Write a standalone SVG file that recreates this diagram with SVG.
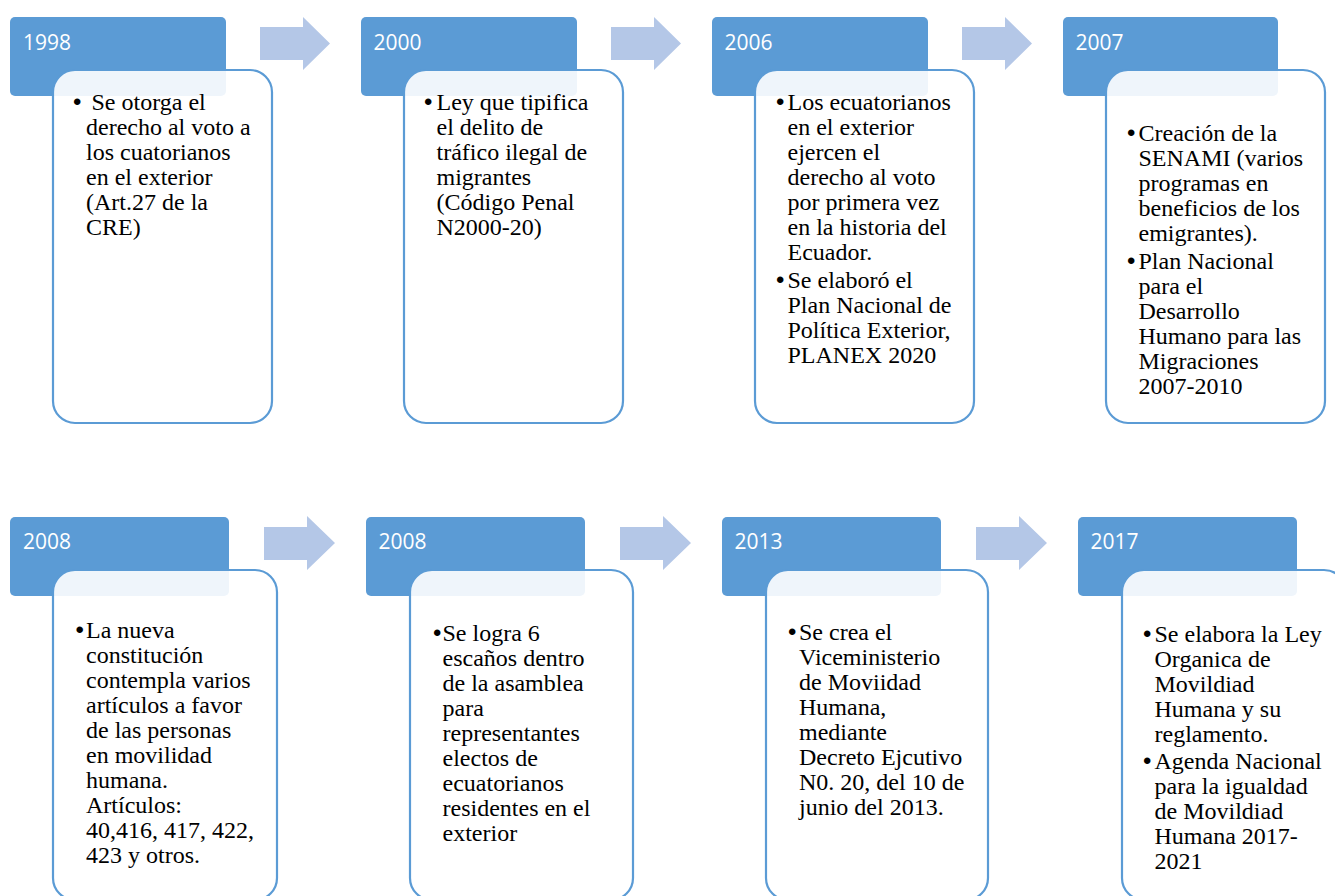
<svg xmlns="http://www.w3.org/2000/svg" width="1335" height="896" viewBox="0 0 1335 896">
<style>
.hdr{fill:#5B9BD5}
.yr{font-family:"Open Sans","Liberation Sans",sans-serif;font-size:21px;fill:#ffffff}
.card{fill:#ffffff;fill-opacity:0.9;stroke:#5B9BD5;stroke-width:2.2}
.tx{font-family:"Liberation Serif","Times New Roman",serif;font-size:24px;fill:#000000}
.bl{font-family:"Liberation Sans",Arial,sans-serif;font-size:24px;fill:#000000}
.arr{fill:#B4C7E7}
</style>
<rect width="1335" height="896" fill="#ffffff"/>
<g id="connectors">
<polygon class="arr" points="260,27 303,27 303,17 330,43.5 303,70 303,60 260,60"/>
<polygon class="arr" points="611,27 654,27 654,17 681,43.5 654,70 654,60 611,60"/>
<polygon class="arr" points="962,27 1005,27 1005,17 1032,43.5 1005,70 1005,60 962,60"/>
<polygon class="arr" points="264,527 307,527 307,516 335,543 307,570 307,560 264,560"/>
<polygon class="arr" points="620,527 663,527 663,516 691,543 663,570 663,560 620,560"/>
<polygon class="arr" points="976,527 1019,527 1019,516 1047,543 1019,570 1019,560 976,560"/>
</g>
<g id="node-1998">
<rect class="hdr" x="10" y="17" width="216" height="79" rx="5"/>
<text class="yr" x="23" y="50">1998</text>
<rect class="card" x="53" y="70" width="219" height="353" rx="22"/>
<text class="bl" x="73" y="110">•</text>
<text class="tx"><tspan x="91.5" y="110">Se otorga el</tspan><tspan x="86" y="135">derecho al voto a</tspan><tspan x="86" y="160">los cuatorianos</tspan><tspan x="86" y="185">en el exterior</tspan><tspan x="86" y="210">(Art.27 de la</tspan><tspan x="86" y="235">CRE)</tspan></text>
</g>
<g id="node-2000">
<rect class="hdr" x="361" y="17" width="216" height="79" rx="5"/>
<text class="yr" x="373.5" y="50">2000</text>
<rect class="card" x="404" y="70" width="219" height="353" rx="22"/>
<text class="bl" x="424" y="110">•</text>
<text class="tx"><tspan x="436.5" y="110">Ley que tipifica</tspan><tspan x="436.5" y="135">el delito de</tspan><tspan x="436.5" y="160">tráfico ilegal de</tspan><tspan x="436.5" y="185">migrantes</tspan><tspan x="436.5" y="210">(Código Penal</tspan><tspan x="436.5" y="235">N2000-20)</tspan></text>
</g>
<g id="node-2006">
<rect class="hdr" x="712" y="17" width="216" height="79" rx="5"/>
<text class="yr" x="724.5" y="50">2006</text>
<rect class="card" x="755" y="70" width="219" height="353" rx="22"/>
<text class="bl" x="776" y="110">•</text>
<text class="bl" x="776" y="287.5">•</text>
<text class="tx"><tspan x="787.5" y="110">Los ecuatorianos</tspan><tspan x="787.5" y="135">en el exterior</tspan><tspan x="787.5" y="160">ejercen el</tspan><tspan x="787.5" y="185">derecho al voto</tspan><tspan x="787.5" y="210">por primera vez</tspan><tspan x="787.5" y="235">en la historia del</tspan><tspan x="787.5" y="260">Ecuador.</tspan><tspan x="787.5" y="287.5">Se elaboró el</tspan><tspan x="787.5" y="312.5">Plan Nacional de</tspan><tspan x="787.5" y="337.5">Política Exterior,</tspan><tspan x="787.5" y="362.5">PLANEX 2020</tspan></text>
</g>
<g id="node-2007">
<rect class="hdr" x="1063" y="17" width="215" height="79" rx="5"/>
<text class="yr" x="1075.5" y="50">2007</text>
<rect class="card" x="1106" y="70" width="219" height="353" rx="22"/>
<text class="bl" x="1127" y="141">•</text>
<text class="bl" x="1127" y="269">•</text>
<text class="tx"><tspan x="1138.5" y="141">Creación de la</tspan><tspan x="1138.5" y="166">SENAMI (varios</tspan><tspan x="1138.5" y="191">programas en</tspan><tspan x="1138.5" y="216">beneficios de los</tspan><tspan x="1138.5" y="241">emigrantes).</tspan><tspan x="1138.5" y="269">Plan Nacional</tspan><tspan x="1138.5" y="294">para el</tspan><tspan x="1138.5" y="319">Desarrollo</tspan><tspan x="1138.5" y="344">Humano para las</tspan><tspan x="1138.5" y="369">Migraciones</tspan><tspan x="1138.5" y="394">2007-2010</tspan></text>
</g>
<g id="node-2008a">
<rect class="hdr" x="10" y="517" width="219" height="79" rx="5"/>
<text class="yr" x="23" y="549">2008</text>
<rect class="card" x="53" y="570" width="224" height="330" rx="22"/>
<text class="bl" x="75.5" y="638">•</text>
<text class="tx"><tspan x="86" y="638">La nueva</tspan><tspan x="86" y="663">constitución</tspan><tspan x="86" y="688">contempla varios</tspan><tspan x="86" y="713">artículos a favor</tspan><tspan x="86" y="738">de las personas</tspan><tspan x="86" y="763">en movilidad</tspan><tspan x="86" y="788">humana.</tspan><tspan x="86" y="813">Artículos:</tspan><tspan x="86" y="838">40,416, 417, 422,</tspan><tspan x="86" y="863">423 y otros.</tspan></text>
</g>
<g id="node-2008b">
<rect class="hdr" x="366" y="517" width="219" height="79" rx="5"/>
<text class="yr" x="378.5" y="549">2008</text>
<rect class="card" x="410" y="570" width="223" height="330" rx="22"/>
<text class="bl" x="433" y="640.5">•</text>
<text class="tx"><tspan x="442.5" y="640.5">Se logra 6</tspan><tspan x="442.5" y="665.5">escaños dentro</tspan><tspan x="442.5" y="690.5">de la asamblea</tspan><tspan x="442.5" y="715.5">para</tspan><tspan x="442.5" y="740.5">representantes</tspan><tspan x="442.5" y="765.5">electos de</tspan><tspan x="442.5" y="790.5">ecuatorianos</tspan><tspan x="442.5" y="815.5">residentes en el</tspan><tspan x="442.5" y="840.5">exterior</tspan></text>
</g>
<g id="node-2013">
<rect class="hdr" x="722" y="517" width="219" height="79" rx="5"/>
<text class="yr" x="734.5" y="549">2013</text>
<rect class="card" x="766" y="570" width="222" height="330" rx="22"/>
<text class="bl" x="788" y="640">•</text>
<text class="tx"><tspan x="799" y="640">Se crea el</tspan><tspan x="799" y="665">Viceministerio</tspan><tspan x="799" y="690">de Moviidad</tspan><tspan x="799" y="715">Humana,</tspan><tspan x="799" y="740">mediante</tspan><tspan x="799" y="765">Decreto Ejcutivo</tspan><tspan x="799" y="790">N0. 20, del 10 de</tspan><tspan x="799" y="815">junio del 2013.</tspan></text>
</g>
<g id="node-2017">
<rect class="hdr" x="1078" y="517" width="219" height="79" rx="5"/>
<text class="yr" x="1090.5" y="549">2017</text>
<rect class="card" x="1122" y="570" width="224" height="330" rx="22"/>
<text class="bl" x="1143" y="641.5">•</text>
<text class="bl" x="1143" y="769">•</text>
<text class="tx"><tspan x="1154.5" y="641.5">Se elabora la Ley</tspan><tspan x="1154.5" y="666.5">Organica de</tspan><tspan x="1154.5" y="691.5">Movildiad</tspan><tspan x="1154.5" y="716.5">Humana y su</tspan><tspan x="1154.5" y="741.5">reglamento.</tspan><tspan x="1154.5" y="769">Agenda Nacional</tspan><tspan x="1154.5" y="794">para la igualdad</tspan><tspan x="1154.5" y="819">de Movildiad</tspan><tspan x="1154.5" y="844">Humana 2017-</tspan><tspan x="1154.5" y="869">2021</tspan></text>
</g>
</svg>
